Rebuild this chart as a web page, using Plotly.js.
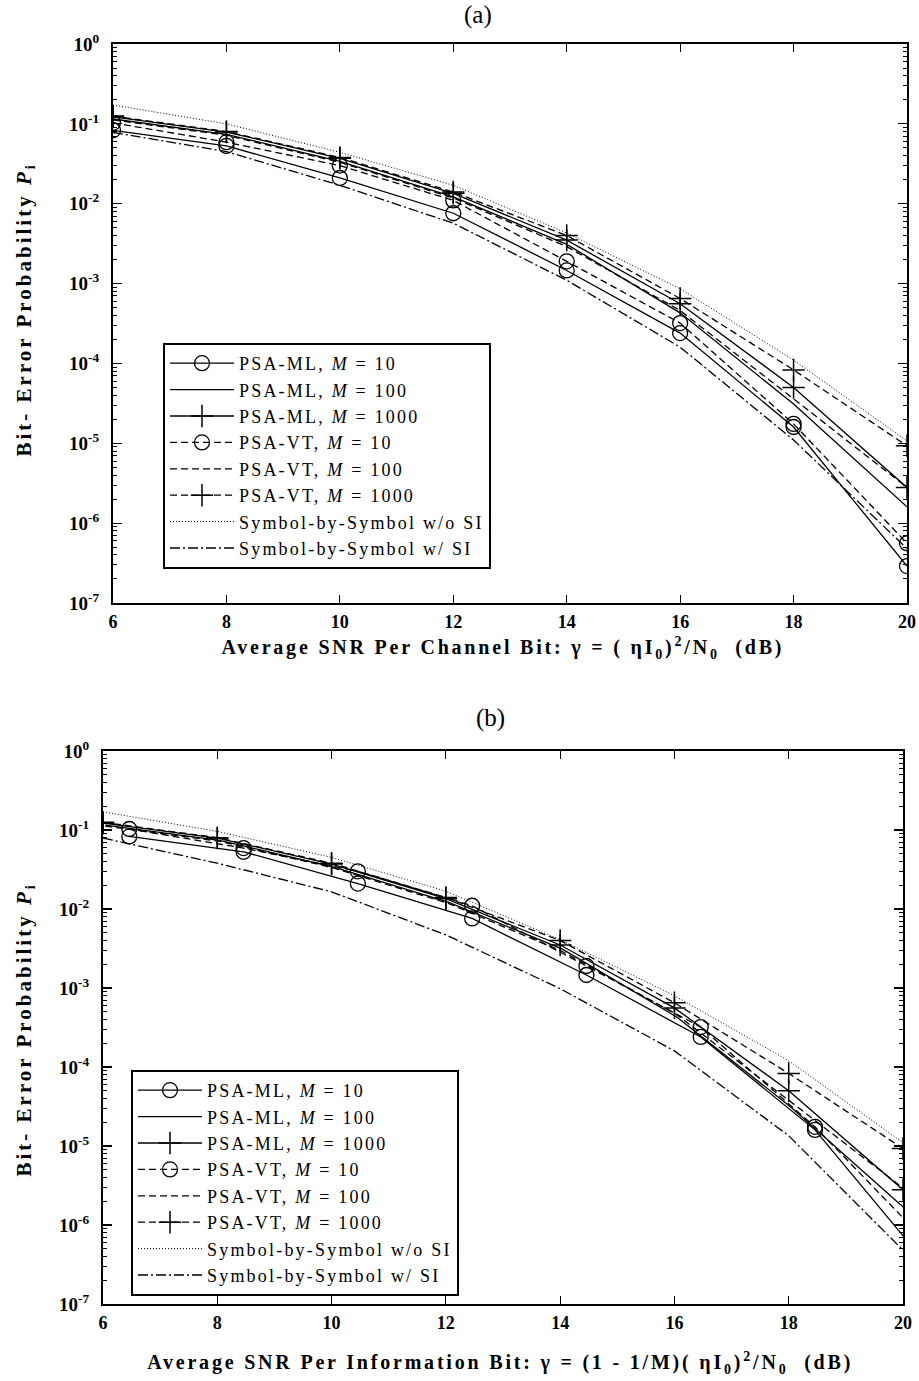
<!DOCTYPE html>
<html>
<head>
<meta charset="utf-8">
<script src="https://cdn.plot.ly/plotly-3.0.1.min.js"></script>
<style>
  html, body { margin: 0; padding: 0; background: #fff; }
  #chart { width: 919px; height: 1381px; }
  text.legendtext, text.legend2text { letter-spacing: 2.2px; }
</style>
</head>
<body>
<div id="chart"></div>
<script>
// ---------- data ----------
// Panel (a): x = average SNR per channel bit (dB)
const snrA = [6, 8, 10, 12, 14, 16, 18, 20];
const mlM10   = [0.083, 0.053, 0.021, 0.0076, 0.00146, 2.4e-4, 1.6e-5, 2.9e-7];
const mlM100  = [0.115, 0.074, 0.034, 0.0122, 0.0031, 4.3e-4, 3.1e-5, 1.6e-6];
const mlM1000 = [0.122, 0.079, 0.037, 0.0135, 0.0035, 5.6e-4, 5.0e-5, 2.8e-6];
const vtM10   = [0.103, 0.059, 0.030, 0.011, 0.0019, 3.2e-4, 1.75e-5, 5.6e-7];
const vtM100  = [0.112, 0.072, 0.033, 0.0118, 0.0029, 4.6e-4, 3.6e-5, 2.8e-6];
const vtM1000 = [0.125, 0.080, 0.038, 0.014, 0.0040, 6.5e-4, 8.3e-5, 9.3e-6];
const sbsNoSI_a = [0.172, 0.100, 0.044, 0.017, 0.0043, 8.6e-4, 1.1e-4, 1.07e-5];
const sbsSI_a   = [0.078, 0.045, 0.017, 0.0057, 0.0011, 1.6e-4, 1.1e-5, 4.8e-7];

// Panel (b): x = average SNR per information bit (dB)
const snrB_M10   = [6.46, 8.46, 10.46, 12.46, 14.46, 16.46, 18.46, 20.46];
const snrB_M100  = [6.04, 8.04, 10.04, 12.04, 14.04, 16.04, 18.04, 20.04];
const snrB_M1000 = [6, 8, 10, 12, 14, 16, 18, 20];
const snrB_sbs   = [6, 8, 10, 12, 14, 16, 18, 20];
const sbsNoSI_b = [0.170, 0.096, 0.045, 0.0168, 0.0041, 8.0e-4, 1.2e-4, 1.1e-5];
const sbsSI_b   = [0.079, 0.038, 0.0165, 0.0047, 9.8e-4, 1.6e-4, 1.35e-5, 4.8e-7];

// axis ticks
const xTicks = [6, 8, 10, 12, 14, 16, 18, 20];
const yTickVals = [1e-7, 1e-6, 1e-5, 1e-4, 1e-3, 1e-2, 1e-1, 1];
const yTickText = ['10<sup>-7</sup>', '10<sup>-6</sup>', '10<sup>-5</sup>', '10<sup>-4</sup>',
                   '10<sup>-3</sup>', '10<sup>-2</sup>', '10<sup>-1</sup>', '10<sup>0</sup>'];

const names = ['PSA-ML, <i>M</i> = 10', 'PSA-ML, <i>M</i> = 100', 'PSA-ML, <i>M</i> = 1000',
               'PSA-VT, <i>M</i> = 10', 'PSA-VT, <i>M</i> = 100', 'PSA-VT, <i>M</i> = 1000',
               'Symbol-by-Symbol w/o SI', 'Symbol-by-Symbol w/ SI'];

// ---------- styles ----------
const SERIF = 'Liberation Serif, Times New Roman, serif';
const solid   = {color: 'black', width: 1.3};
const dashed  = {color: 'black', width: 1.3, dash: '7px,4px'};
const dotted  = {color: 'black', width: 1, dash: '1px,2px'};
const dashdot = {color: 'black', width: 1.3, dash: '10px,3px,2px,3px'};
const circ = {symbol: 'circle-open', size: 15, color: 'black', line: {width: 1.3, color: 'black'}};
const plus = {symbol: 'cross-thin-open', size: 16, color: 'black', line: {width: 1.5, color: 'black'}};

function tr(x, y, name, line, marker, xa, ya, leg) {
  const t = {x: x, y: y, name: name, type: 'scatter', line: line,
             mode: marker ? 'lines+markers' : 'lines', xaxis: xa, yaxis: ya, legend: leg};
  if (marker) t.marker = marker;
  return t;
}

const traces = [];
// panel (a)
traces.push(tr(snrA, mlM10,   names[0], solid,  circ, 'x', 'y', 'legend'));
traces.push(tr(snrA, mlM100,  names[1], solid,  null, 'x', 'y', 'legend'));
traces.push(tr(snrA, mlM1000, names[2], solid,  plus, 'x', 'y', 'legend'));
traces.push(tr(snrA, vtM10,   names[3], dashed, circ, 'x', 'y', 'legend'));
traces.push(tr(snrA, vtM100,  names[4], dashed, null, 'x', 'y', 'legend'));
traces.push(tr(snrA, vtM1000, names[5], dashed, plus, 'x', 'y', 'legend'));
traces.push(tr(snrA, sbsNoSI_a, names[6], dotted,  null, 'x', 'y', 'legend'));
traces.push(tr(snrA, sbsSI_a,   names[7], dashdot, null, 'x', 'y', 'legend'));
// panel (b)
traces.push(tr(snrB_M10,   mlM10,   names[0], solid,  circ, 'x2', 'y2', 'legend2'));
traces.push(tr(snrB_M100,  mlM100,  names[1], solid,  null, 'x2', 'y2', 'legend2'));
traces.push(tr(snrB_M1000, mlM1000, names[2], solid,  plus, 'x2', 'y2', 'legend2'));
traces.push(tr(snrB_M10,   vtM10,   names[3], dashed, circ, 'x2', 'y2', 'legend2'));
traces.push(tr(snrB_M100,  vtM100,  names[4], dashed, null, 'x2', 'y2', 'legend2'));
traces.push(tr(snrB_M1000, vtM1000, names[5], dashed, plus, 'x2', 'y2', 'legend2'));
traces.push(tr(snrB_sbs, sbsNoSI_b, names[6], dotted,  null, 'x2', 'y2', 'legend2'));
traces.push(tr(snrB_sbs, sbsSI_b,   names[7], dashdot, null, 'x2', 'y2', 'legend2'));

const W = 919, H = 1381;
const px = v => v / W;
const py = v => (H - v) / H;

function xAxis(domain, anchor) {
  return {domain: domain, anchor: anchor, range: [6, 20], tickmode: 'array', tickvals: xTicks,
          ticks: 'inside', ticklen: 8, tickwidth: 1.2, tickcolor: 'black',
          showline: true, linewidth: 2, linecolor: 'black', mirror: 'ticks',
          showgrid: false, zeroline: false, ticklabelstandoff: 1,
          tickfont: {family: SERIF, size: 18, color: 'black', weight: 'bold'}};
}
function yAxis(domain, anchor) {
  return {domain: domain, anchor: anchor, type: 'log', range: [-7, 0],
          tickmode: 'array', tickvals: yTickVals, ticktext: yTickText,
          ticks: 'inside', ticklen: 9, tickwidth: 1.2, tickcolor: 'black',
          minor: {ticks: 'inside', ticklen: 4, tickwidth: 1, tickcolor: 'black', dtick: 'D1', showgrid: false},
          showline: true, linewidth: 2, linecolor: 'black', mirror: 'ticks',
          showgrid: false, zeroline: false, ticklabelstandoff: 8,
          tickfont: {family: SERIF, size: 19, color: 'black', weight: 'bold'}};
}

const legendBase = {xanchor: 'left', yanchor: 'top', bgcolor: 'white', bordercolor: 'black',
                    borderwidth: 2, itemwidth: 64, tracegroupgap: 0,
                    font: {family: SERIF, size: 18, color: 'black'}};

const titleFont = {family: SERIF, size: 20, color: 'black', weight: 'bold'};
const yTitleFont = {family: SERIF, size: 21, color: 'black', weight: 'bold'};
function ann(text, x, y, font, extra) {
  return Object.assign({text: text, x: px(x), y: py(y), xref: 'paper', yref: 'paper',
                        xanchor: 'center', yanchor: 'middle', showarrow: false, font: font}, extra || {});
}
const layout = {
  width: W, height: H,
  margin: {l: 0, r: 0, t: 0, b: 0},
  paper_bgcolor: 'white', plot_bgcolor: 'white',
  showlegend: true,
  xaxis:  xAxis([px(113), px(907)], 'y'),
  yaxis:  yAxis([py(603), py(44)], 'x'),
  xaxis2: xAxis([px(103), px(903)], 'y2'),
  yaxis2: yAxis([py(1304), py(751)], 'x2'),
  legend:  Object.assign({}, legendBase, {x: px(163), y: py(343)}),
  legend2: Object.assign({}, legendBase, {x: px(131), y: py(1070)}),
  annotations: [
    ann('(a)', 478, 15, {family: SERIF, size: 25, color: 'black'}),
    ann('(b)', 490, 718, {family: SERIF, size: 25, color: 'black'}),
    ann('Average SNR Per Channel Bit: γ = ( ηI<sub>0</sub>)<sup>2</sup>/N<sub>0</sub>  (dB)',
        503, 648, titleFont),
    ann('Average SNR Per Information Bit: γ = (1 - 1/M)( ηI<sub>0</sub>)<sup>2</sup>/N<sub>0</sub>  (dB)',
        500, 1363, titleFont),
    ann('Bit- Error Probability <i>P</i><sub>i</sub>', 25, 310, yTitleFont, {textangle: -90}),
    ann('Bit- Error Probability <i>P</i><sub>i</sub>', 25, 1030, yTitleFont, {textangle: -90})
  ]
};

Plotly.newPlot('chart', traces, layout, {displayModeBar: false, staticPlot: true}).then(function () {
  // widen the axis-title lettering like the reference typesetting (text is middle-anchored)
  document.querySelectorAll('.annotation-text').forEach(function (el) {
    const t = el.textContent;
    if (t.indexOf('Average') === 0) el.style.letterSpacing = '2.8px';
    if (t.indexOf('Bit-') === 0) el.style.letterSpacing = '3px';
  });
});
</script>
</body>
</html>
